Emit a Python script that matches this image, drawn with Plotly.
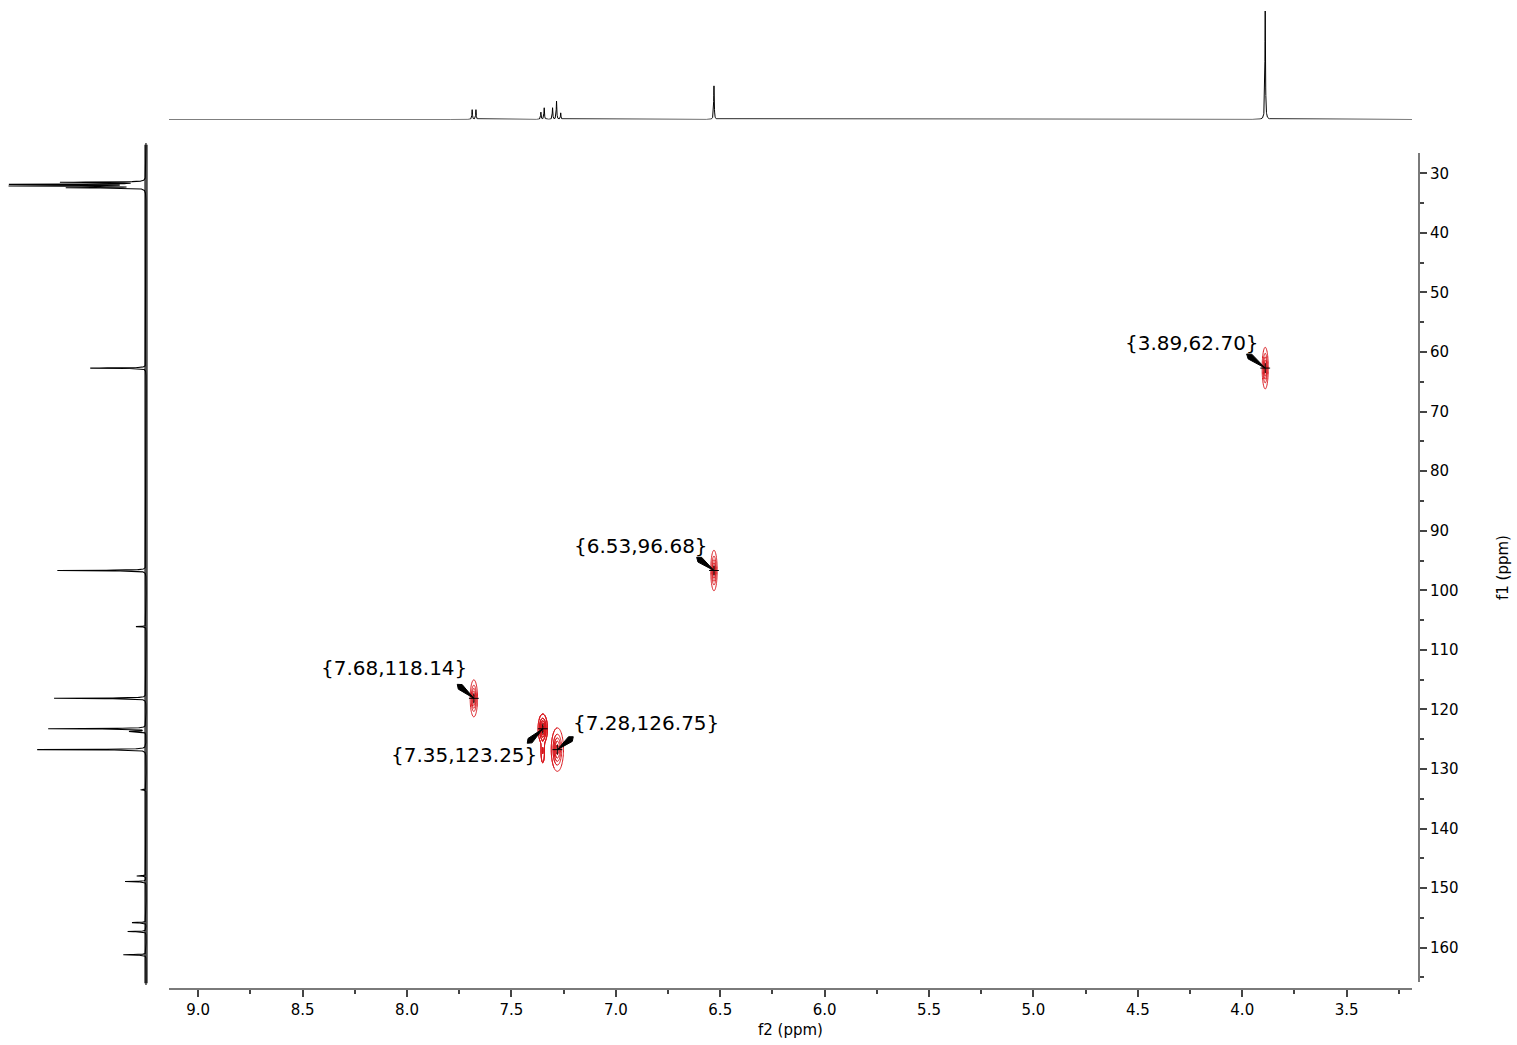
import numpy as np
import plotly.graph_objects as go

# ---- 1H projection (f2 axis): line positions (ppm) and relative heights ----
h_shift = [7.688, 7.670, 7.359, 7.343, 7.303, 7.284, 7.264, 6.530, 3.890]
h_height = [0.09, 0.09, 0.067, 0.107, 0.107, 0.168, 0.06, 0.31, 1.0]

# ---- 13C projection (f1 axis): line positions (ppm) and relative heights ----
c_shift = [31.51, 31.85, 32.13, 32.42, 62.70, 96.68, 106.1, 118.14, 123.25,
           123.7, 126.75, 133.5, 147.96, 148.9, 155.8, 157.3, 161.2]
c_height = [0.61, 0.97, 0.97, 0.56, 0.41, 0.652, 0.074, 0.676, 0.718,
            0.118, 0.80, 0.04, 0.068, 0.154, 0.103, 0.135, 0.167]

# ---- HSQC cross peaks (f2, f1) ----
hsqc_h = [3.89, 6.53, 7.68, 7.35, 7.28]
hsqc_c = [62.70, 96.68, 118.14, 123.25, 126.75]

# contour components: centre, amplitude and widths (ppm)
comp_h = [3.89, 6.53, 7.68, 7.35, 7.35, 7.28]
comp_c = [62.70, 96.68, 118.14, 123.25, 127.0, 126.75]
comp_amp = [1.0, 1.0, 1.0, 1.0, 0.3, 1.0]
comp_wh = [0.0065, 0.0068, 0.0078, 0.0100, 0.0050, 0.0130]
comp_wc = [1.55, 1.51, 1.38, 1.10, 1.20, 1.62]

# label placement (screen pixels relative to the peak; +y is down)
label_dx = [-73.3, -72.7, -80.2, -79.1, 88.4]
label_dy = [-25.1, -25.0, -30.3, 26.2, -26.3]
arrow_dx = [-18.6, -17.3, -16.6, -15.5, 15.9]
arrow_dy = [-14.1, -13.2, -14.0, 14.5, -12.9]

# ---- axis geometry ----
W, H = 1517, 1045
X_RANGE = [9.140, 3.187]
Y_RANGE = [165.76, 26.59]
C_RANGE = [166.27, 24.91]

RED = "#d9151b"
FONT = "DejaVu Sans"


def lorentz(axis, pos, height, hw):
    out = np.zeros_like(axis)
    for p, a in zip(pos, height):
        out += a * hw ** 2 / ((axis - p) ** 2 + hw ** 2)
    return out


fig = go.Figure()

# 1H projection on top
hx = np.arange(X_RANGE[1], X_RANGE[0], 0.0005)
hy = lorentz(hx, h_shift, h_height, 0.0016)
fig.add_trace(go.Scatter(x=hx, y=hy, mode="lines", xaxis="x2", yaxis="y2",
                         line=dict(color="black", width=1), hoverinfo="skip"))

# 13C projection on the left
cy = np.arange(C_RANGE[1], C_RANGE[0], 0.01)
cx = lorentz(cy, c_shift, c_height, 0.045)
fig.add_trace(go.Scatter(x=[0, 0], y=[C_RANGE[1] + 0.3, C_RANGE[0] - 0.3], mode="lines",
                         xaxis="x3", yaxis="y3",
                         line=dict(color="#4a4a4a", width=3.5), hoverinfo="skip"))
fig.add_trace(go.Scatter(x=cx, y=cy, mode="lines", xaxis="x3", yaxis="y3",
                         line=dict(color="black", width=1.1), hoverinfo="skip"))

# HSQC contours, one local grid per cross peak
for h0, c0, wh, wc in zip(comp_h, comp_c, comp_wh, comp_wc):
    gx = np.linspace(h0 - 6 * wh - 0.01, h0 + 6 * wh + 0.01, 61)
    gy = np.linspace(c0 - 6 * wc, c0 + 6 * wc, 91)
    X, Y = np.meshgrid(gx, gy)
    Z = np.zeros_like(X)
    for ph, pc, a, sh, sc in zip(comp_h, comp_c, comp_amp, comp_wh, comp_wc):
        Z += a * np.exp(-0.5 * ((X - ph) / sh) ** 2 - 0.5 * ((Y - pc) / sc) ** 2)
    fig.add_trace(go.Contour(
        x=gx, y=gy, z=Z, xaxis="x", yaxis="y",
        contours=dict(coloring="lines", start=0.08, end=0.88, size=0.2, showlabels=False),
        colorscale=[[0, RED], [1, RED]], showscale=False,
        line=dict(width=1), hoverinfo="skip"))

# peak centre crosses
fig.add_trace(go.Scatter(x=hsqc_h, y=hsqc_c, mode="markers", xaxis="x", yaxis="y",
                         marker=dict(symbol="cross-thin", size=7,
                                     line=dict(color="black", width=1)),
                         hoverinfo="skip"))

annotations = []
shapes = []
for h0, c0, tdx, tdy, adx, ady in zip(hsqc_h, hsqc_c, label_dx, label_dy, arrow_dx, arrow_dy):
    annotations.append(dict(
        x=h0, y=c0, xref="x", yref="y", text="{%.2f,%.2f}" % (h0, c0),
        showarrow=False, xshift=tdx, yshift=-tdy,
        font=dict(family=FONT, size=20, color="black")))
    # wedge-shaped pointer from the label to the peak (pixel offsets, +y up)
    tx, ty = adx, -ady
    L = np.hypot(tx, ty)
    ux, uy = -tx / L, -ty / L
    nx, ny = -uy, ux
    bx, by = tx + ux * 0.18 * L, ty + uy * 0.18 * L
    hw = 3.0
    path = "M%.2f,%.2f L%.2f,%.2f L0,0 L%.2f,%.2f Z" % (
        tx, ty, bx + nx * hw, by + ny * hw, bx - nx * hw, by - ny * hw)
    shapes.append(dict(type="path", xref="x", yref="y", xsizemode="pixel",
                       ysizemode="pixel", xanchor=h0, yanchor=c0, path=path,
                       fillcolor="black", line=dict(color="black", width=1)))

axis_common = dict(showgrid=False, zeroline=False, automargin=False)

fig.update_layout(
    width=W, height=H,
    margin=dict(l=0, r=0, t=0, b=0),
    paper_bgcolor="white", plot_bgcolor="white",
    showlegend=False,
    font=dict(family=FONT, color="black", size=15),
    annotations=annotations,
    shapes=shapes,
    xaxis=dict(domain=[169 / W, 1412 / W], range=X_RANGE, anchor="free",
               position=(H - 989) / H, showline=True, linecolor="#7a7a7a", linewidth=2,
               ticks="outside", ticklen=7, tickwidth=1.5, tickcolor="#444",
               tick0=0, dtick=0.5, tickformat=".1f",
               tickfont=dict(family=FONT, size=15, color="black"),
               minor=dict(dtick=0.25, ticks="outside", ticklen=4, tickwidth=1.5, tickcolor="#444"),
               title=dict(text="f2 (ppm)", standoff=5, font=dict(family=FONT, size=15)),
               **axis_common),
    yaxis=dict(domain=[(H - 982) / H, (H - 153) / H], range=Y_RANGE, anchor="free",
               position=1419 / W, side="right", showline=True, linecolor="#7a7a7a",
               linewidth=2, ticks="outside", ticklen=7, tickwidth=1.5, tickcolor="#444",
               tick0=0, dtick=10,
               tickfont=dict(family=FONT, size=15, color="black"),
               minor=dict(dtick=5, ticks="outside", ticklen=4, tickwidth=1.5, tickcolor="#444"),
               title=dict(text="f1 (ppm)", standoff=39, font=dict(family=FONT, size=15)),
               **axis_common),
    xaxis2=dict(domain=[169 / W, 1412 / W], range=X_RANGE, anchor="y2", visible=False,
                **axis_common),
    yaxis2=dict(domain=[(H - 119.5) / H, (H - 11) / H], range=[0, 1.0], anchor="x2",
                visible=False, **axis_common),
    xaxis3=dict(domain=[0, 150 / W], range=[1.0735, -0.0294], anchor="y3", visible=False,
                **axis_common),
    yaxis3=dict(domain=[(H - 985) / H, (H - 143) / H], range=C_RANGE, anchor="x3",
                visible=False, **axis_common),
)

fig.write_html("out.html")
